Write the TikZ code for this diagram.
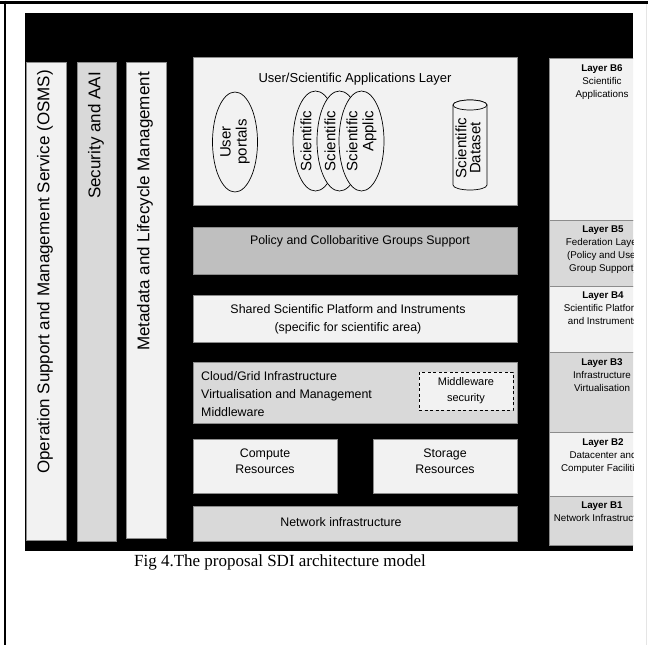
\documentclass[tikz,border=0pt]{standalone}
\usepackage{fontspec}
\setmainfont{Liberation Sans}
\newfontfamily\captionserif{Liberation Serif}
\usetikzlibrary{shapes.geometric}

\definecolor{paleband}{HTML}{F2F2F2}
\definecolor{midband}{HTML}{D9D9D9}
\definecolor{darkband}{HTML}{BFBFBF}
\definecolor{edgegray}{HTML}{8C8C8C}

\newcommand\fsz[2]{\fontsize{#1}{#2}\selectfont}

\tikzset{
  box/.style={draw=edgegray, line width=0.6pt, inner sep=0pt, outer sep=0pt},
  palebox/.style={box, fill=paleband},
  midbox/.style={box, fill=midband},
  darkbox/.style={box, fill=darkband},
  sidelabel/.style={rotate=90, anchor=east, inner sep=0pt, font=\fsz{17}{20}},
  bodytext/.style={inner sep=0pt, align=center, font=\fsz{12.4}{18}},
  pod/.style={ellipse, draw=black, line width=0.7pt, fill=paleband, rotate=90,
    minimum width=100pt, minimum height=45pt, inner sep=0pt, font=\fsz{15}{16}},
  layertext/.style={anchor=north, inner sep=0pt, align=center, font=\fsz{9.8}{13}},
}

\begin{document}
\begin{tikzpicture}[x=1pt,y=-1pt]
\useasboundingbox (0,0) rectangle (648,645);
\fill[white] (0,0) rectangle (648,645);

% page frame
\draw[line width=3pt] (0,2) -- (648,2);
\draw[line width=2.5pt] (5,0.5) -- (5,645);
\draw[line width=0.8pt, black!10] (646,4) -- (646,645);

% dark ground of the model
\fill[black] (25,13) rectangle (633,551);

% vertical cross-cutting services
\node[palebox, minimum width=40, minimum height=478] (osms) at (46,301) {};
\node[midbox,  minimum width=39, minimum height=479] (sec)  at (96.5,301.5) {};
\node[palebox, minimum width=40, minimum height=476] (meta) at (146,300) {};
\node[sidelabel] (osmst) at (45,70) {Operation Support and Management Service (OSMS)};
\node[sidelabel] (sect)  at (96,72) {Security and AAI};
\node[sidelabel] (metat) at (145,72) {Metadata and Lifecycle Management};

% application layer
\node[palebox, minimum width=324, minimum height=148] (apps) at (355,131) {};
\node[bodytext, font=\fsz{13}{16}] (appst) at (355,79) {User/Scientific Applications Layer};
\node[pod, align=center] (portals) at (235,142) {User\\portals};
\node[pod, align=right] (sci1) at (315.5,141) {Scientific\\\phantom{Applic}};
\node[pod, align=right] (sci2) at (339.5,141) {Scientific\\\phantom{Applic}};
\node[pod, align=right] (sci3) at (361.5,141) {Scientific\\Applic};

% dataset cylinder
\draw[black, line width=0.7pt, fill=paleband]
  (453,105) -- (453,185) arc[start angle=180, end angle=0, x radius=17, y radius=5]
  -- (487,105) arc[start angle=0, end angle=-180, x radius=17, y radius=5] -- cycle;
\draw[black, line width=0.7pt, fill=paleband] (470,105) ellipse[x radius=17, y radius=5];
\node[rotate=90, inner sep=0pt, align=center, font=\fsz{15}{14}] (data) at (468,148) {Scientific\\Dataset};

% middle layers
\node[darkbox, minimum width=324, minimum height=47] (policy) at (355,250.5) {};
\node[bodytext] (policyt) at (360,241) {Policy and Collobaritive Groups Support};

\node[palebox, minimum width=324, minimum height=47] (shared) at (355,318.5) {};
\node[bodytext] (sharedt) at (348,319) {Shared Scientific Platform and Instruments\\(specific for scientific area)};

\node[midbox, minimum width=324, minimum height=61] (cloud) at (355,392.5) {};
\node[bodytext, align=left, anchor=west] (cloudt) at (201,394) {Cloud/Grid Infrastructure\\Virtualisation and Management\\Middleware};
\node[draw=black, line width=0.7pt, dash pattern=on 3pt off 2.5pt, fill=paleband,
  minimum width=94, minimum height=38, inner sep=0pt, align=center, font=\fsz{11}{16}]
  (mwsec) at (466,391) {Middleware\\security};

\node[palebox, minimum width=144, minimum height=54] (compute) at (265,466) {};
\node[bodytext, font=\fsz{12.4}{16}] (computet) at (265,461) {Compute\\Resources};
\node[palebox, minimum width=144, minimum height=54] (storage) at (445,466) {};
\node[bodytext, font=\fsz{12.4}{16}] (storaget) at (445,461) {Storage\\Resources};

\node[midbox, minimum width=324, minimum height=35] (network) at (355,523.5) {};
\node[bodytext] (networkt) at (341,522) {Network infrastructure};

% layer column, cut at the edge of the ground
\begin{scope}
\clip (549,0) rectangle (633,645);
\node[palebox, minimum width=96, minimum height=162] (b6) at (597,139) {};
\node[midbox,  minimum width=96, minimum height=66]  (b5) at (597,253) {};
\node[palebox, minimum width=96, minimum height=66]  (b4) at (597,319) {};
\node[midbox,  minimum width=96, minimum height=80]  (b3) at (597,392) {};
\node[palebox, minimum width=96, minimum height=64]  (b2) at (597,464) {};
\node[midbox,  minimum width=96, minimum height=49]  (b1) at (597,520.5) {};
\node[layertext] (b6t) at (602,64)  {\bfseries Layer B6\\Scientific\\Applications};
\node[layertext] (b5t) at (603,226) {\bfseries Layer B5\\Federation Layer\\(Policy and User\\Group Support)};
\node[layertext] (b4t) at (603,292) {\bfseries Layer B4\\Scientific Platform\\and Instruments};
\node[layertext] (b3t) at (602,358) {\bfseries Layer B3\\Infrastructure\\Virtualisation};
\node[layertext] (b2t) at (603,438) {\bfseries Layer B2\\Datacenter and\\Computer Facilities};
\node[layertext] (b1t) at (602,502) {\bfseries Layer B1\\Network Infrastructure};
\end{scope}

% caption
\node[inner sep=0pt, font=\captionserif\fsz{17}{20}] (caption) at (280,562) {Fig 4.The proposal SDI architecture model};
\end{tikzpicture}
\end{document}
